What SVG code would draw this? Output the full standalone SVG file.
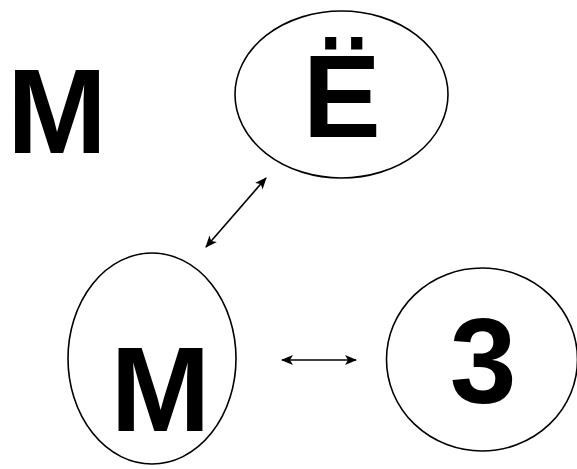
<svg xmlns="http://www.w3.org/2000/svg" width="577" height="469" viewBox="0 0 577 469">
<defs>
<style>
.node ellipse{fill:none;stroke:#000;stroke-width:1.6}
.lbl{font-family:"Liberation Sans",Arial,sans-serif;font-weight:bold;font-size:120px;fill:#000;text-anchor:middle}
.conn line{stroke:#000;stroke-width:1.6;marker-start:url(#ah);marker-end:url(#ah)}
</style>
<marker id="ah" viewBox="0 0 12 10" refX="11" refY="5" markerWidth="12" markerHeight="10" markerUnits="userSpaceOnUse" orient="auto-start-reverse">
<path d="M0,0 L12,5 L0,10 L3,5 Z" fill="#000"/>
</marker>
</defs>
<rect width="577" height="469" fill="#fff"/>
<g id="label-m-top"><text class="lbl" x="57" y="153">M</text></g>
<g id="node-yo" class="node">
<ellipse cx="341.5" cy="94.5" rx="106.5" ry="83.5"/>
<text class="lbl" x="342" y="137" style="font-size:117px">Ё</text>
</g>
<g id="node-m" class="node">
<ellipse cx="152" cy="358.5" rx="84" ry="105.5"/>
<text class="lbl" x="160.5" y="431">M</text>
</g>
<g id="node-3" class="node">
<ellipse cx="482" cy="359.5" rx="95.5" ry="91.5"/>
<text class="lbl" x="483" y="402.5">3</text>
</g>
<g id="connectors" class="conn">
<line x1="206" y1="247" x2="266" y2="178"/>
<line x1="282" y1="360" x2="356" y2="360"/>
</g>
</svg>
